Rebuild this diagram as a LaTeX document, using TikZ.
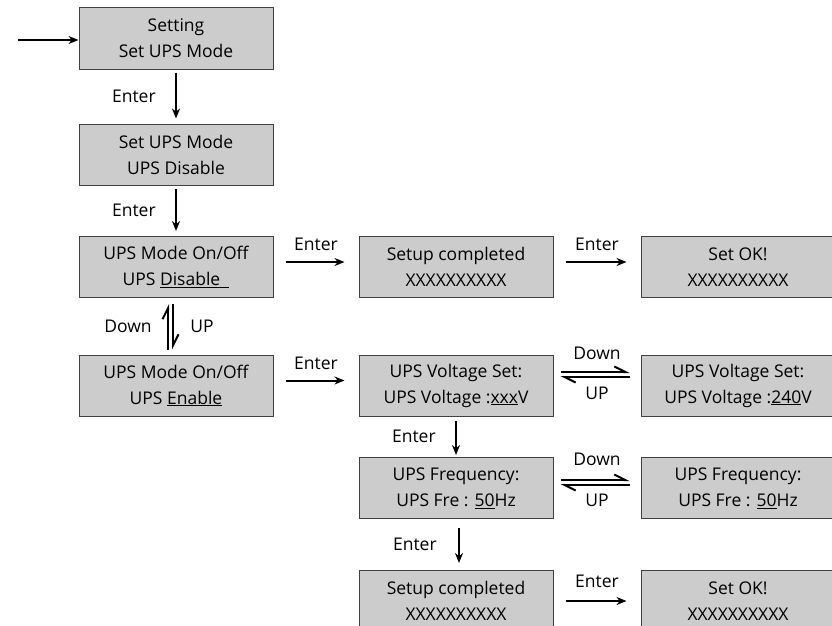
\documentclass[tikz,border=0pt]{standalone}
\usepackage{fontspec}
\setmainfont{Open Sans}
\usetikzlibrary{positioning, arrows.meta}

\begin{document}
\begin{tikzpicture}[x=1pt, y=1pt, node distance=280pt, on grid,
    font=\fontsize{17.5}{26}\selectfont,
    menu/.style={draw=black!75, fill=black!20, line width=1pt,
        minimum width=194pt, minimum height=61pt, inner sep=0pt, align=center},
    go/.style={-{Stealth[length=10pt, width=8pt]}, line width=2pt},
    harp/.style={-{Straight Barb[harpoon, length=11pt, width=11pt]}, line width=2pt}]
    \useasboundingbox (0,0) rectangle (832,-626);

    \node[menu] (set) at (176,-38.5) {Setting\\Set UPS Mode};
    \node[menu] (mode) [below=116pt of set] {Set UPS Mode\\UPS Disable};
    \node[menu] (off) [below=112.5pt of mode] {UPS Mode On/Off\\UPS \underline{Disable\ \ }};
    \node[menu] (on) [below=118.5pt of off] {UPS Mode On/Off\\UPS \underline{Enable}};
    \node[menu] (done1) [right=of off] {Setup completed\\XXXXXXXXXX};
    \node[menu] (ok1) [right=282pt of done1] {Set OK!\\XXXXXXXXXX};
    \node[menu] (volt) [right=of on] {UPS Voltage Set:\\UPS Voltage :\underline{xxx}V};
    \node[menu] (volt2) [right=282pt of volt] {UPS Voltage Set:\\UPS Voltage :\underline{240}V};
    \node[menu] (freq) [below=102.5pt of volt] {UPS Frequency:\\UPS Fre : \underline{50}Hz};
    \node[menu] (freq2) [right=282pt of freq] {UPS Frequency:\\UPS Fre : \underline{50}Hz};
    \node[menu] (done2) [below=113pt of freq] {Setup completed\\XXXXXXXXXX};
    \node[menu] (ok2) [right=282pt of done2] {Set OK!\\XXXXXXXXXX};

    \coordinate (in) at (18,-40);
    \draw[go] (in) -- (set.west |- in);

    % down the left column
    \draw[go, shorten <=3pt, shorten >=5pt] (set) -- node[left=16pt] {Enter} (mode);
    \draw[go, shorten <=3pt, shorten >=5pt] (mode) -- node[left=16pt] {Enter} (off);
    \draw[harp, shorten <=5pt, shorten >=6pt] ([xshift=-8pt]on.north) -- node[left=12pt] {Down} ([xshift=-8pt]off.south);
    \draw[harp, shorten <=6pt, shorten >=5pt] ([xshift=-3pt]off.south) -- node[right=13pt] {UP} ([xshift=-3pt]on.north);

    % across
    \draw[go, shorten <=12pt, shorten >=14pt] ([yshift=5pt]off.east) -- node[above=7pt] {Enter} ([yshift=5pt]done1.west);
    \draw[go, shorten <=12pt, shorten >=14pt] ([yshift=5pt]done1.east) -- node[above=7pt] {Enter} ([yshift=5pt]ok1.west);
    \draw[go, shorten <=12pt, shorten >=14pt] ([yshift=5pt]on.east) -- node[above=7pt] {Enter} ([yshift=5pt]volt.west);

    % voltage and frequency
    \draw[harp, shorten <=7pt, shorten >=11pt] ([yshift=13.5pt]volt.east) -- node[above=8pt] {Down} ([yshift=13.5pt]volt2.west);
    \draw[harp, shorten <=11pt, shorten >=7pt] ([yshift=8.5pt]volt2.west) -- node[below=6pt] {UP} ([yshift=8.5pt]volt.east);
    \draw[go, shorten <=4pt, shorten >=2pt] (volt) -- node[left=16pt] {Enter} (freq);
    \draw[harp, shorten <=7pt, shorten >=11pt] ([yshift=8pt]freq.east) -- node[above=10pt] {Down} ([yshift=8pt]freq2.west);
    \draw[harp, shorten <=11pt, shorten >=7pt] ([yshift=3pt]freq2.west) -- node[below=5pt] {UP} ([yshift=3pt]freq.east);
    \draw[go, shorten <=9pt, shorten >=7pt] ([xshift=3pt]freq.south) -- node[left=18pt] {Enter} ([xshift=3pt]done2.north);
    \draw[go, shorten <=12pt, shorten >=14pt] (done2) -- node[above=9pt] {Enter} (ok2);
\end{tikzpicture}
\end{document}
